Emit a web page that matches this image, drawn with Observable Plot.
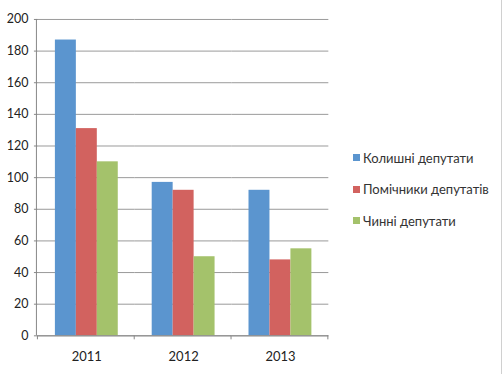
<!DOCTYPE html>
<html>
<head>
<meta charset="utf-8">
<script src="https://cdn.jsdelivr.net/npm/d3@7"></script>
<script src="https://cdn.jsdelivr.net/npm/@observablehq/plot@0.6"></script>
<style>
  html, body { margin: 0; padding: 0; background: #fff; }
  #wrap { position: relative; width: 502px; height: 374px; overflow: hidden; border-right: 1px solid #d0d0d0; box-sizing: border-box; }
  #legend { position: absolute; left: 353px; top: 142px; font-family: Lato, "Open Sans", sans-serif; font-size: 13px; color: #333; }
  #legend .item { display: flex; align-items: center; height: 31.5px; }
  #legend .sw { width: 7px; height: 7px; margin-right: 3px; }
  svg { font-family: Lato, "Open Sans", sans-serif; }
</style>
</head>
<body>
<div id="wrap"></div>
<script>
const years = ["2011", "2012", "2013"];
const seriesNames = ["Колишні депутати", "Помічники депутатів", "Чинні депутати"];
const colors = ["#5B95CF", "#D2625F", "#A4C26B"];
const former = [187, 97, 92];
const assistants = [131, 92, 48];
const current = [110, 50, 55];
const yTicks = [0, 20, 40, 60, 80, 100, 120, 140, 160, 180, 200];

const seriesValues = [former, assistants, current];
const data = [];
years.forEach((y, i) => {
  seriesNames.forEach((s, j) => data.push({year: y, series: s, value: seriesValues[j][i]}));
});

const chart = Plot.plot({
  width: 502,
  height: 374,
  marginLeft: 37,
  marginRight: 172,
  marginTop: 19,
  marginBottom: 38,
  style: {fontFamily: "Lato, 'Open Sans', sans-serif", fontSize: "12px", color: "#222", background: "transparent"},
  fx: {domain: years, paddingInner: 0, paddingOuter: 0, label: null, axis: null},
  x: {domain: seriesNames, paddingInner: 0, paddingOuter: 0.73, axis: null, label: null},
  y: {domain: [0, 200], ticks: yTicks, label: null, axis: null},
  color: {domain: seriesNames, range: colors},
  marks: [
    Plot.gridY(yTicks, {stroke: "#9a9a9a", strokeOpacity: 1, strokeWidth: 1}),
    Plot.barY(data, {fx: "year", x: "series", y: "value", fill: "series"}),
    Plot.axisY(yTicks, {anchor: "left", facetAnchor: "left", tickSize: 4, tickPadding: 6, stroke: "#888", fontSize: 12.5, fill: "#222"}),
    Plot.ruleY([0], {stroke: "#888"}),
    Plot.axisFx({anchor: "bottom", tickSize: 0, tickPadding: 16, fontSize: 13, label: null, fill: "#222"})
  ]
});

const wrap = document.getElementById("wrap");
wrap.appendChild(chart);

// y-axis spine and category boundary ticks, derived from the plot's scales
const svg = d3.select(chart);
const fx = chart.scale("fx");
const y = chart.scale("y");
const bw = fx.bandwidth;
const starts = years.map(d => fx.apply(d));
const bounds = starts.concat([starts[starts.length - 1] + bw]);
const off = 37;
const y0 = y.apply(0), y1 = y.apply(200);
const g = svg.append("g").attr("stroke", "#888").attr("stroke-width", 1);
g.append("line").attr("x1", off - 0.5).attr("x2", off - 0.5).attr("y1", y1).attr("y2", y0);
bounds.forEach(b => {
  const xx = (fx.apply(years[0]) === 0 ? off : 0) + b - 0.5;
  g.append("line").attr("x1", xx).attr("x2", xx).attr("y1", y0).attr("y2", y0 + 4);
});

const legend = document.createElement("div");
legend.id = "legend";
seriesNames.forEach((s, i) => {
  const it = document.createElement("div");
  it.className = "item";
  const sw = document.createElement("span");
  sw.className = "sw";
  sw.style.background = colors[i];
  const t = document.createElement("span");
  t.textContent = s;
  it.appendChild(sw); it.appendChild(t);
  legend.appendChild(it);
});
wrap.appendChild(legend);
</script>
</body>
</html>
